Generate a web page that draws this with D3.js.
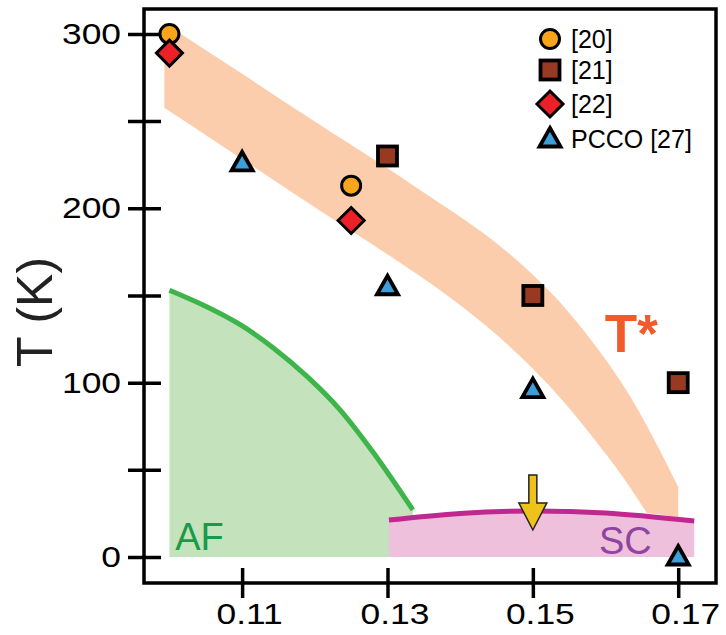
<!DOCTYPE html>
<html>
<head>
<meta charset="utf-8">
<script src="https://cdn.jsdelivr.net/npm/d3@7"></script>
<style>
  html, body { margin: 0; padding: 0; background: #fff; }
  svg { display: block; font-family: "Liberation Sans", Arial, sans-serif; }
</style>
</head>
<body>
<svg id="chart"></svg>
<script>
// data: doping x, temperature T (K)
const ref20 = [[0.100, 300], [0.125, 213]];
const ref21 = [[0.130, 230], [0.150, 150], [0.170, 100]];
const ref22 = [[0.100, 289], [0.125, 193]];
const pcco27 = [[0.110, 226], [0.130, 155], [0.150, 96], [0.170, 0]];

// T* crossover band edges
const tStarUpper = [[0.0993, 306.3], [0.110, 277.1], [0.120, 249.8], [0.130, 222.9], [0.1345, 210.4],
  [0.140, 195.1], [0.1455, 178.3], [0.150, 161.9], [0.1537, 146.2], [0.1592, 117.8],
  [0.1634, 92.0], [0.1665, 68.9], [0.170, 40.2]];
const tStarCut = [0.170, 23];
const tStarLower = [[0.0993, 257.6], [0.110, 228.2], [0.120, 200.6], [0.1318, 168.6], [0.1386, 148.8],
  [0.1455, 125.7], [0.1524, 97.6], [0.1592, 63.6], [0.1627, 44.1], [0.1657, 25.2]];

// AF boundary and SC dome
const afLine = [[0.100, 153], [0.1052, 143.4], [0.1098, 133.1], [0.1143, 119.9], [0.119, 103.3],
  [0.1235, 84.3], [0.128, 60.2], [0.1335, 27]];
const scDome = [[0.1302, 21.2], [0.140, 25], [0.150, 26.4], [0.160, 25.2], [0.1722, 20.6]];

// arrow at optimal doping: x, shaft top, head start, tip (K)
const arrowX = 0.15;
const arrowT = [47, 31, 15.5];

const xTicks = [0.11, 0.13, 0.15, 0.17];
const yTicks = [0, 50, 100, 150, 200, 250, 300];
const legendLabels = ["[20]", "[21]", "[22]", "PCCO [27]"];

const width = 726, height = 635;
const svg = d3.select("#chart")
  .attr("width", width)
  .attr("height", height)
  .attr("viewBox", [0, 0, width, height]);

const mLeft = 144, mRight = 716, mTop = 9, mBottom = 583;
const x = d3.scaleLinear().domain([0.0965, 0.1752]).range([mLeft, mRight]);
const y = d3.scaleLinear().domain([-14.9, 314.3]).range([mBottom, mTop]);

const smooth = d3.line().x(d => x(d[0])).y(d => y(d[1])).curve(d3.curveCatmullRom);

// T* band
const up = d3.line().x(d => x(d[0])).y(d => y(d[1])).curve(d3.curveMonotoneX)(tStarUpper);
const lowPath = smooth(tStarLower.slice().reverse());
svg.append("path")
  .attr("d", up + `L${x(tStarCut[0])},${y(tStarCut[1])}L` + lowPath.slice(1) + "Z")
  .attr("fill", "#fccdad");

// AF region
svg.append("path")
  .attr("d", d3.area().x(d => x(d[0])).y0(y(0)).y1(d => y(d[1])).curve(d3.curveCatmullRom)(afLine))
  .attr("fill", "#c4e2bc");

// SC region
svg.append("path")
  .attr("d", d3.area().x(d => x(d[0])).y0(y(0)).y1(d => y(d[1])).curve(d3.curveCatmullRom)(scDome))
  .attr("fill", "#eec0dc");

svg.append("path")
  .attr("d", smooth(afLine))
  .attr("fill", "none")
  .attr("stroke", "#3db54a")
  .attr("stroke-width", 5);

svg.append("path")
  .attr("d", smooth(scDome))
  .attr("fill", "none")
  .attr("stroke", "#c0288f")
  .attr("stroke-width", 5);

// yellow arrow
const ax = x(arrowX), a0 = y(arrowT[0]), a1 = y(arrowT[1]), a2 = y(arrowT[2]);
svg.append("path")
  .attr("d", `M${ax - 4},${a0}L${ax + 4},${a0}L${ax + 4},${a1}L${ax + 14},${a1}L${ax},${a2}L${ax - 14},${a1}L${ax - 4},${a1}Z`)
  .attr("fill", "#eec21b")
  .attr("stroke", "#222")
  .attr("stroke-width", 1.5);

// region labels
svg.append("text").attr("x", x(0.1008)).attr("y", y(4))
  .attr("fill", "#1a9a48").style("font-size", "38px").text("AF");
svg.append("text").attr("x", x(0.1591)).attr("y", y(1.7))
  .attr("fill", "#8e44a0").style("font-size", "38px").text("SC");
svg.append("text").attr("x", x(0.1599)).attr("y", y(117.6))
  .attr("fill", "#f15a2b").style("font-size", "53px").style("font-weight", "bold").text("T*");

// marker shapes: 0 circle, 1 square, 2 diamond, 3 triangle
function marker(g, kind) {
  if (kind === 0) {
    g.append("circle").attr("r", 9.5).attr("fill", "#f8a51c");
  } else if (kind === 1) {
    g.append("rect").attr("x", -9.5).attr("y", -9.5).attr("width", 19).attr("height", 19)
      .attr("fill", "#983a22");
  } else if (kind === 2) {
    g.append("path").attr("d", "M0,-13L13,0L0,13L-13,0Z").attr("fill", "#ec2127");
  } else {
    g.append("path").attr("d", "M0,-11L10.5,7.5L-10.5,7.5Z").attr("fill", "#3c9fd9");
  }
  g.selectAll("*").attr("stroke", "#000").attr("stroke-width", kind === 0 || kind === 2 ? 3 : 3.8)
    .attr("stroke-linejoin", "miter");
}

[ref20, ref21, ref22, pcco27].forEach((series, k) => {
  series.forEach(d => {
    const g = svg.append("g").attr("transform", `translate(${x(d[0])},${y(d[1])})`);
    marker(g, k);
  });
});

// legend
const legendY = [39, 70, 104, 139];
legendLabels.forEach((label, i) => {
  const g = svg.append("g").attr("transform", `translate(550,${legendY[i]})`);
  marker(g, i);
  g.append("text").attr("x", 21).attr("y", 9)
    .style("font-size", "25px").attr("fill", "#000").text(label);
});

// axes
const yAxis = d3.axisLeft(y).tickValues(yTicks).tickFormat(d => d % 100 === 0 ? d : "");
const gY = svg.append("g").attr("transform", `translate(${mLeft},0)`).call(yAxis);
gY.select(".domain").remove();
gY.selectAll(".tick line").attr("x1", -16).attr("x2", 17)
  .attr("stroke", "#000").attr("stroke-width", 3.5);
gY.selectAll(".tick text").attr("x", -23).style("font-size", "30px")
  .attr("fill", "#000").style("font-family", "Liberation Sans, Arial, sans-serif");

const xAxis = d3.axisBottom(x).tickValues(xTicks).tickFormat(d3.format(".2f"));
const gX = svg.append("g").attr("transform", `translate(0,${mBottom})`).call(xAxis);
gX.select(".domain").remove();
gX.selectAll(".tick line").attr("y1", -15).attr("y2", 15)
  .attr("stroke", "#000").attr("stroke-width", 3.5);
gX.selectAll(".tick text").attr("y", 20).attr("dx", 7).style("font-size", "30px")
  .attr("fill", "#000").style("font-family", "Liberation Sans, Arial, sans-serif");

// widen tick labels a bit, like the reference
svg.selectAll(".tick text").each(function () {
  const w = this.getComputedTextLength();
  if (w > 0) d3.select(this).attr("textLength", w * 1.18).attr("lengthAdjust", "spacingAndGlyphs");
});

// frame
svg.append("rect")
  .attr("x", mLeft).attr("y", mTop)
  .attr("width", mRight - mLeft).attr("height", mBottom - mTop)
  .attr("fill", "none").attr("stroke", "#000").attr("stroke-width", 3.5);

// y title
svg.append("text")
  .attr("transform", `translate(52,312) rotate(-90)`)
  .attr("text-anchor", "middle")
  .style("font-size", "50px")
  .attr("fill", "#222")
  .text("T (K)");
</script>
</body>
</html>
